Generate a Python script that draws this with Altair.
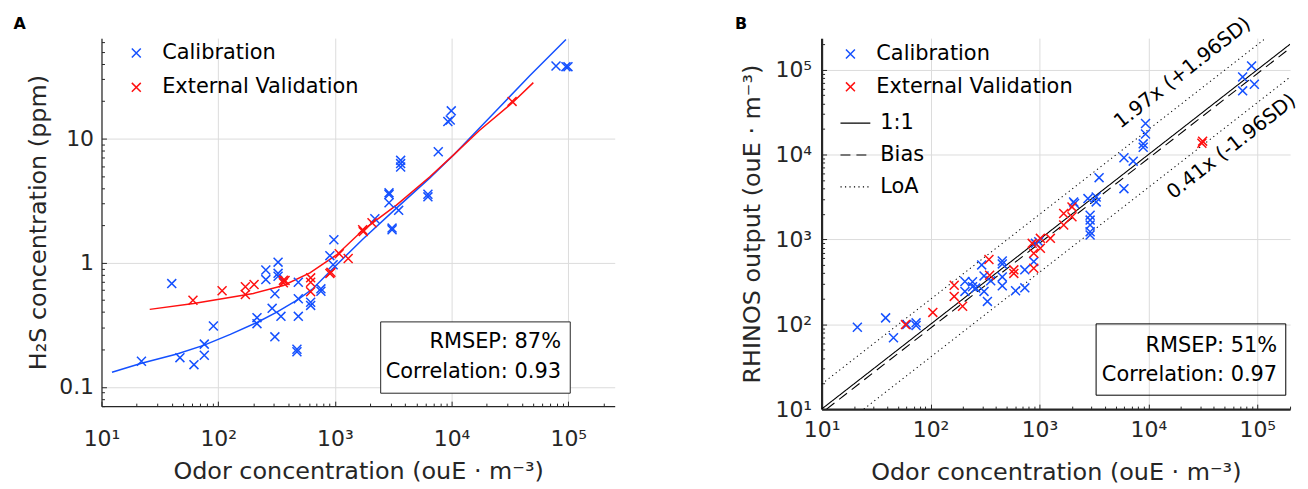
import altair as alt
import pandas as pd

FONT = "DejaVu Sans"
BLUE = "#1450ff"
RED = "#ff1010"
DARK = "#262626"
GRID = "#dcdcdc"
XPATH = "M-1,-1L1,1M-1,1L1,-1"

series_names = ["Calibration", "External Validation"]
panel_letters = ["A", "B"]

# ---------------- Panel A data ----------------
a_cal_x = [22, 40, 47, 62, 76, 76, 91, 215, 215, 256, 256, 290, 306, 306, 326, 326, 326, 345,
           473, 473, 486, 486, 486, 620, 620, 759, 759, 906, 980, 966, 2200, 2910, 2910, 2910,
           3520, 3090, 3090, 3660, 3660, 3660, 6270, 6270, 7690, 9290, 9740, 9940, 78500, 95500, 99400]
a_cal_y = [0.161, 0.679, 0.172, 0.151, 0.221, 0.180, 0.309, 0.361, 0.323, 0.874, 0.731, 0.429, 0.562,
           0.253, 1.01, 0.821, 0.777, 0.370, 0.201, 0.192, 0.696, 0.512, 0.370, 0.481, 0.453, 0.616,
           0.589, 1.14, 1.53, 0.964, 2.26, 3.65, 3.54, 3.04, 2.64, 1.84, 1.90, 6.67, 6.28, 5.89, 3.56,
           3.39, 7.83, 13.7, 14.1, 16.7, 38.4, 37.9, 37.9]
a_val_x = [60.8, 108, 171, 171, 203, 362, 362, 374, 620, 620, 620, 925, 906, 1090, 1300, 1730, 1750, 2080, 33000]
a_val_y = [0.499, 0.594, 0.640, 0.555, 0.667, 0.722, 0.689, 0.718, 0.755, 0.696, 0.583, 0.836, 0.82,
           1.18, 1.08, 1.84, 1.78, 2.10, 19.9]

a_fit_cal_x = [12.3, 22, 44.4, 75.9, 127, 215, 318, 486, 650, 906, 1340, 1750, 3370, 6480, 10300, 24100, 46500, 95500]
a_fit_cal_y = [0.131, 0.155, 0.184, 0.217, 0.265, 0.330, 0.400, 0.506, 0.62, 0.85, 1.22, 1.56, 2.75, 4.8, 7.31, 16.7, 31.9, 62.8]
a_fit_val_x = [25.9, 61.5, 108, 200, 362, 611, 1040, 1750, 3370, 6480, 10300, 17300, 33400, 50200]
a_fit_val_y = [0.421, 0.470, 0.512, 0.565, 0.655, 0.828, 1.16, 1.84, 2.91, 4.90, 7.31, 11.6, 19.5, 28.2]

a_box_text = ["RMSEP: 87%", "Correlation: 0.93"]

# ---------------- Panel B data ----------------
b_cal_x = [21.3, 38.7, 45.7, 60.6, 73.7, 73.7, 207, 207, 243, 243, 260, 295, 310, 310, 333, 357,
           456, 456, 456, 456, 604, 734, 734, 887, 919, 986, 2060, 2100, 2790, 3320, 3320, 3530,
           2920, 2920, 2920, 2920, 2920, 5970, 5970, 7260, 8970, 8970, 9420, 9420, 73400, 73400, 88700, 94000]
b_cal_y = [92.2, 119, 69.3, 99.2, 104, 96.6, 319, 244, 317, 277, 267, 501, 372, 244, 186, 325,
           558, 515, 362, 284, 248, 438, 269, 548, 900, 940, 2770, 2650, 3030, 3170, 2770, 5350,
           1930, 1690, 1480, 1230, 1130, 9170, 3970, 8370, 13400, 12200, 17500, 23300, 82400, 56400, 111000, 67600]
b_val_x = [58.9, 105, 165, 165, 197, 344, 349, 582, 582, 858, 887, 887, 1020, 1020, 1260, 1670, 1670,
           1990, 1990, 31000, 31500]
b_val_y = [99.2, 138, 288, 213, 163, 581, 378, 438, 398, 900, 687, 458, 1030, 787, 1030, 2020, 1480,
           2420, 1850, 13600, 14400]

b_line_kind = ["1:1", "Bias", "LoA", "LoA"]
b_line_id = ["one", "bias", "loa_hi", "loa_lo"]
b_line_slope = [1.0, 0.90, 1.97, 0.41]

b_note_text = ["1.97x (+1.96SD)", "0.41x (-1.96SD)"]
b_note_x = [20600, 57900]
b_note_y = [91800, 12400]

b_box_text = ["RMSEP: 51%", "Correlation: 0.97"]

# ---------------- text / ticks ----------------
x_title = "Odor concentration (ouE · m⁻³)"
a_y_title = "H₂S concentration (ppm)"
b_y_title = "RHINOS output (ouE · m⁻³)"
decade_labels = ["10⁰", "10¹", "10²", "10³", "10⁴", "10⁵"]
decades = [10, 100, 1000, 10000, 100000]
a_y_major = [0.1, 1, 10]

a_x_domain = [10, 250000]
a_y_domain = [0.07, 64.3]
b_x_domain = [10, 200000]
b_y_domain = [10, 236000]

minor_10_2e5 = [m * 10 ** e for e in range(1, 6) for m in range(2, 10) if m * 10 ** e <= 200000]
a_y_minor = ([round(m * 0.01, 3) for m in (7, 8, 9)] + [round(m * 0.1, 2) for m in range(2, 10)]
             + list(range(2, 10)) + [m * 10 for m in range(2, 7)])

dec_expr = "[" + ",".join("'%s'" % s for s in decade_labels) + "][round(log(datum.value)/LN10)]"


def major_axis(orient, values, title, label_pad, title_pad, dom_w, label_expr=None, fmt=None):
    kw = dict(orient=orient, values=values, title=title, grid=True, gridColor=GRID, gridWidth=1,
              domain=True, domainColor=DARK, domainWidth=dom_w, ticks=True, tickColor=DARK,
              tickWidth=1, tickSize={"expr": "-5"}, labels=True, labelFont=FONT, labelFontSize=22,
              labelColor=DARK, labelPadding=label_pad, labelFlush=False, labelOverlap=False,
              titleFont=FONT, titleFontSize=24, titleFontWeight="normal", titleColor=DARK,
              titlePadding=title_pad)
    if label_expr:
        kw["labelExpr"] = label_expr
    if fmt:
        kw["format"] = fmt
    return alt.Axis(**kw)


def minor_axis(orient, values):
    return alt.Axis(orient=orient, values=values, title=None, grid=False, domain=False, labels=False,
                    ticks=True, tickColor=DARK, tickWidth=1, tickSize={"expr": "-3"})


def point_legend(lx, ly, label_offset, row_pad):
    return alt.Legend(title=None, orient="none", legendX=lx, legendY=ly, symbolType=XPATH,
                      symbolSize=81, symbolStrokeWidth=1.5, labelFont=FONT, labelFontSize=21,
                      labelColor="black", labelOffset=label_offset, rowPadding=row_pad, padding=0,
                      labelLimit=400)


def box_text(txt, x, y):
    return alt.Chart(one).mark_text(align="right", baseline="alphabetic", font=FONT, fontSize=21,
                                    color="black").encode(x=alt.value(x), y=alt.value(y), text=alt.value(txt))


def letter(txt, x, y):
    return alt.Chart(one).mark_text(align="left", baseline="alphabetic", font=FONT, fontSize=16,
                                    fontWeight="bold", color="black").encode(
        x=alt.value(x), y=alt.value(y), text=alt.value(txt))


one = pd.DataFrame({"i": [0]})

# ---------------- Panel A chart ----------------
xa = alt.Scale(type="log", domain=a_x_domain, nice=False)
ya = alt.Scale(type="log", domain=a_y_domain, nice=False)

a_pts = pd.DataFrame({
    "x": a_cal_x + a_val_x,
    "y": a_cal_y + a_val_y,
    "series": [series_names[0]] * len(a_cal_x) + [series_names[1]] * len(a_val_x),
})

a_fit_cal = alt.Chart(pd.DataFrame({"x": a_fit_cal_x, "y": a_fit_cal_y})).mark_line(
    color=BLUE, strokeWidth=1.5).encode(
    x=alt.X("x:Q", scale=xa, axis=minor_axis("bottom", minor_10_2e5)),
    y=alt.Y("y:Q", scale=ya, axis=minor_axis("left", a_y_minor)),
)
a_fit_val = alt.Chart(pd.DataFrame({"x": a_fit_val_x, "y": a_fit_val_y})).mark_line(
    color=RED, strokeWidth=1.5).encode(
    x=alt.X("x:Q", scale=xa, axis=None),
    y=alt.Y("y:Q", scale=ya, axis=None),
)
a_points = alt.Chart(a_pts).mark_point(shape=XPATH, filled=False, size=81, strokeWidth=1.5, opacity=1).encode(
    x=alt.X("x:Q", scale=xa, axis=major_axis("bottom", decades, x_title, 28, 10, 1.2, label_expr=dec_expr)),
    y=alt.Y("y:Q", scale=ya, axis=major_axis("left", a_y_major, a_y_title, 13, 8, 1.2, fmt="~g")),
    color=alt.Color("series:N", scale=alt.Scale(domain=series_names, range=[BLUE, RED]),
                    legend=point_legend(24.5, 4.5, 15.5, 12.5)),
)
a_box = alt.Chart(one).mark_rect(fill="white", stroke=DARK, strokeWidth=1).encode(
    x=alt.value(280.7), x2=alt.value(471.3), y=alt.value(285.3), y2=alt.value(357))

chart_a = alt.layer(
    a_fit_cal, a_fit_val, a_points, a_box,
    box_text(a_box_text[0], 462, 312), box_text(a_box_text[1], 462, 342),
    letter(panel_letters[0], -88.5, -9),
).resolve_axis(x="independent", y="independent").properties(width=516, height=370)

# ---------------- Panel B chart ----------------
xb = alt.Scale(type="log", domain=b_x_domain, nice=False)
yb = alt.Scale(type="log", domain=b_y_domain, nice=False)

b_pts = pd.DataFrame({
    "x": b_cal_x + b_val_x,
    "y": b_cal_y + b_val_y,
    "series": [series_names[0]] * len(b_cal_x) + [series_names[1]] * len(b_val_x),
})
line_rows = []
for kind, lid, k in zip(b_line_kind, b_line_id, b_line_slope):
    x_lo = max(b_x_domain[0], b_y_domain[0] / k)
    x_hi = min(b_x_domain[1], b_y_domain[1] / k)
    for xe in (x_lo, x_hi):
        line_rows.append({"x": xe, "y": k * xe, "kind": kind, "id": lid})
b_lines_df = pd.DataFrame(line_rows)

b_lines = alt.Chart(b_lines_df).mark_line(clip=True, strokeWidth=1.1).encode(
    x=alt.X("x:Q", scale=xb, axis=minor_axis("bottom", minor_10_2e5)),
    y=alt.Y("y:Q", scale=yb, axis=minor_axis("left", minor_10_2e5)),
    color=alt.value("black"),
    detail="id:N",
    strokeDash=alt.StrokeDash("kind:N", scale=alt.Scale(domain=["1:1", "Bias", "LoA"],
                                                        range=[[1, 0], [10, 6], [1.2, 3.3]]),
                              legend=alt.Legend(title=None, orient="none", legendX=18, legendY=69.5,
                                                symbolType="stroke", symbolSize=900,
                                                symbolStrokeColor="black", symbolStrokeWidth=1.2,
                                                labelFont=FONT, labelFontSize=21, labelColor="black",
                                                labelOffset=9, rowPadding=6, padding=0,
                                                labelLimit=400)),
)
b_points = alt.Chart(b_pts).mark_point(shape=XPATH, filled=False, size=81, strokeWidth=1.5, opacity=1).encode(
    x=alt.X("x:Q", scale=xb, axis=major_axis("bottom", decades, x_title, 16, 20, 2.2, label_expr=dec_expr)),
    y=alt.Y("y:Q", scale=yb, axis=major_axis("left", decades, b_y_title, 15, 11, 2.2, label_expr=dec_expr)),
    color=alt.Color("series:N", scale=alt.Scale(domain=series_names, range=[BLUE, RED]),
                    legend=point_legend(18.5, 5.5, 15.5, 11)),
)
b_notes = alt.Chart(pd.DataFrame({"x": b_note_x, "y": b_note_y, "t": b_note_text})).mark_text(
    font=FONT, fontSize=20, angle=322, align="center", baseline="middle", color="black").encode(
    x=alt.X("x:Q", scale=xb, axis=None), y=alt.Y("y:Q", scale=yb, axis=None), text="t:N")
b_box = alt.Chart(one).mark_rect(fill="white", fillOpacity=0, stroke="black", strokeWidth=1).encode(
    x=alt.value(276), x2=alt.value(466.7), y=alt.value(287.3), y2=alt.value(359))

chart_b = alt.layer(
    b_lines, b_points, b_notes, b_box,
    box_text(b_box_text[0], 458, 315.3), box_text(b_box_text[1], 458, 344.7),
    letter(panel_letters[1], -87, -9),
).resolve_axis(x="independent", y="independent").properties(width=471, height=373)

chart = alt.hconcat(chart_a, chart_b, spacing=121).resolve_scale(
    color="independent", strokeDash="independent").resolve_legend(
    color="independent", strokeDash="independent").properties(
    padding={"left": 5, "top": 4, "right": 0, "bottom": 0}, background="white"
).configure_view(stroke=None)

chart.save("out.html", embed_options={"renderer": "svg", "actions": False})
